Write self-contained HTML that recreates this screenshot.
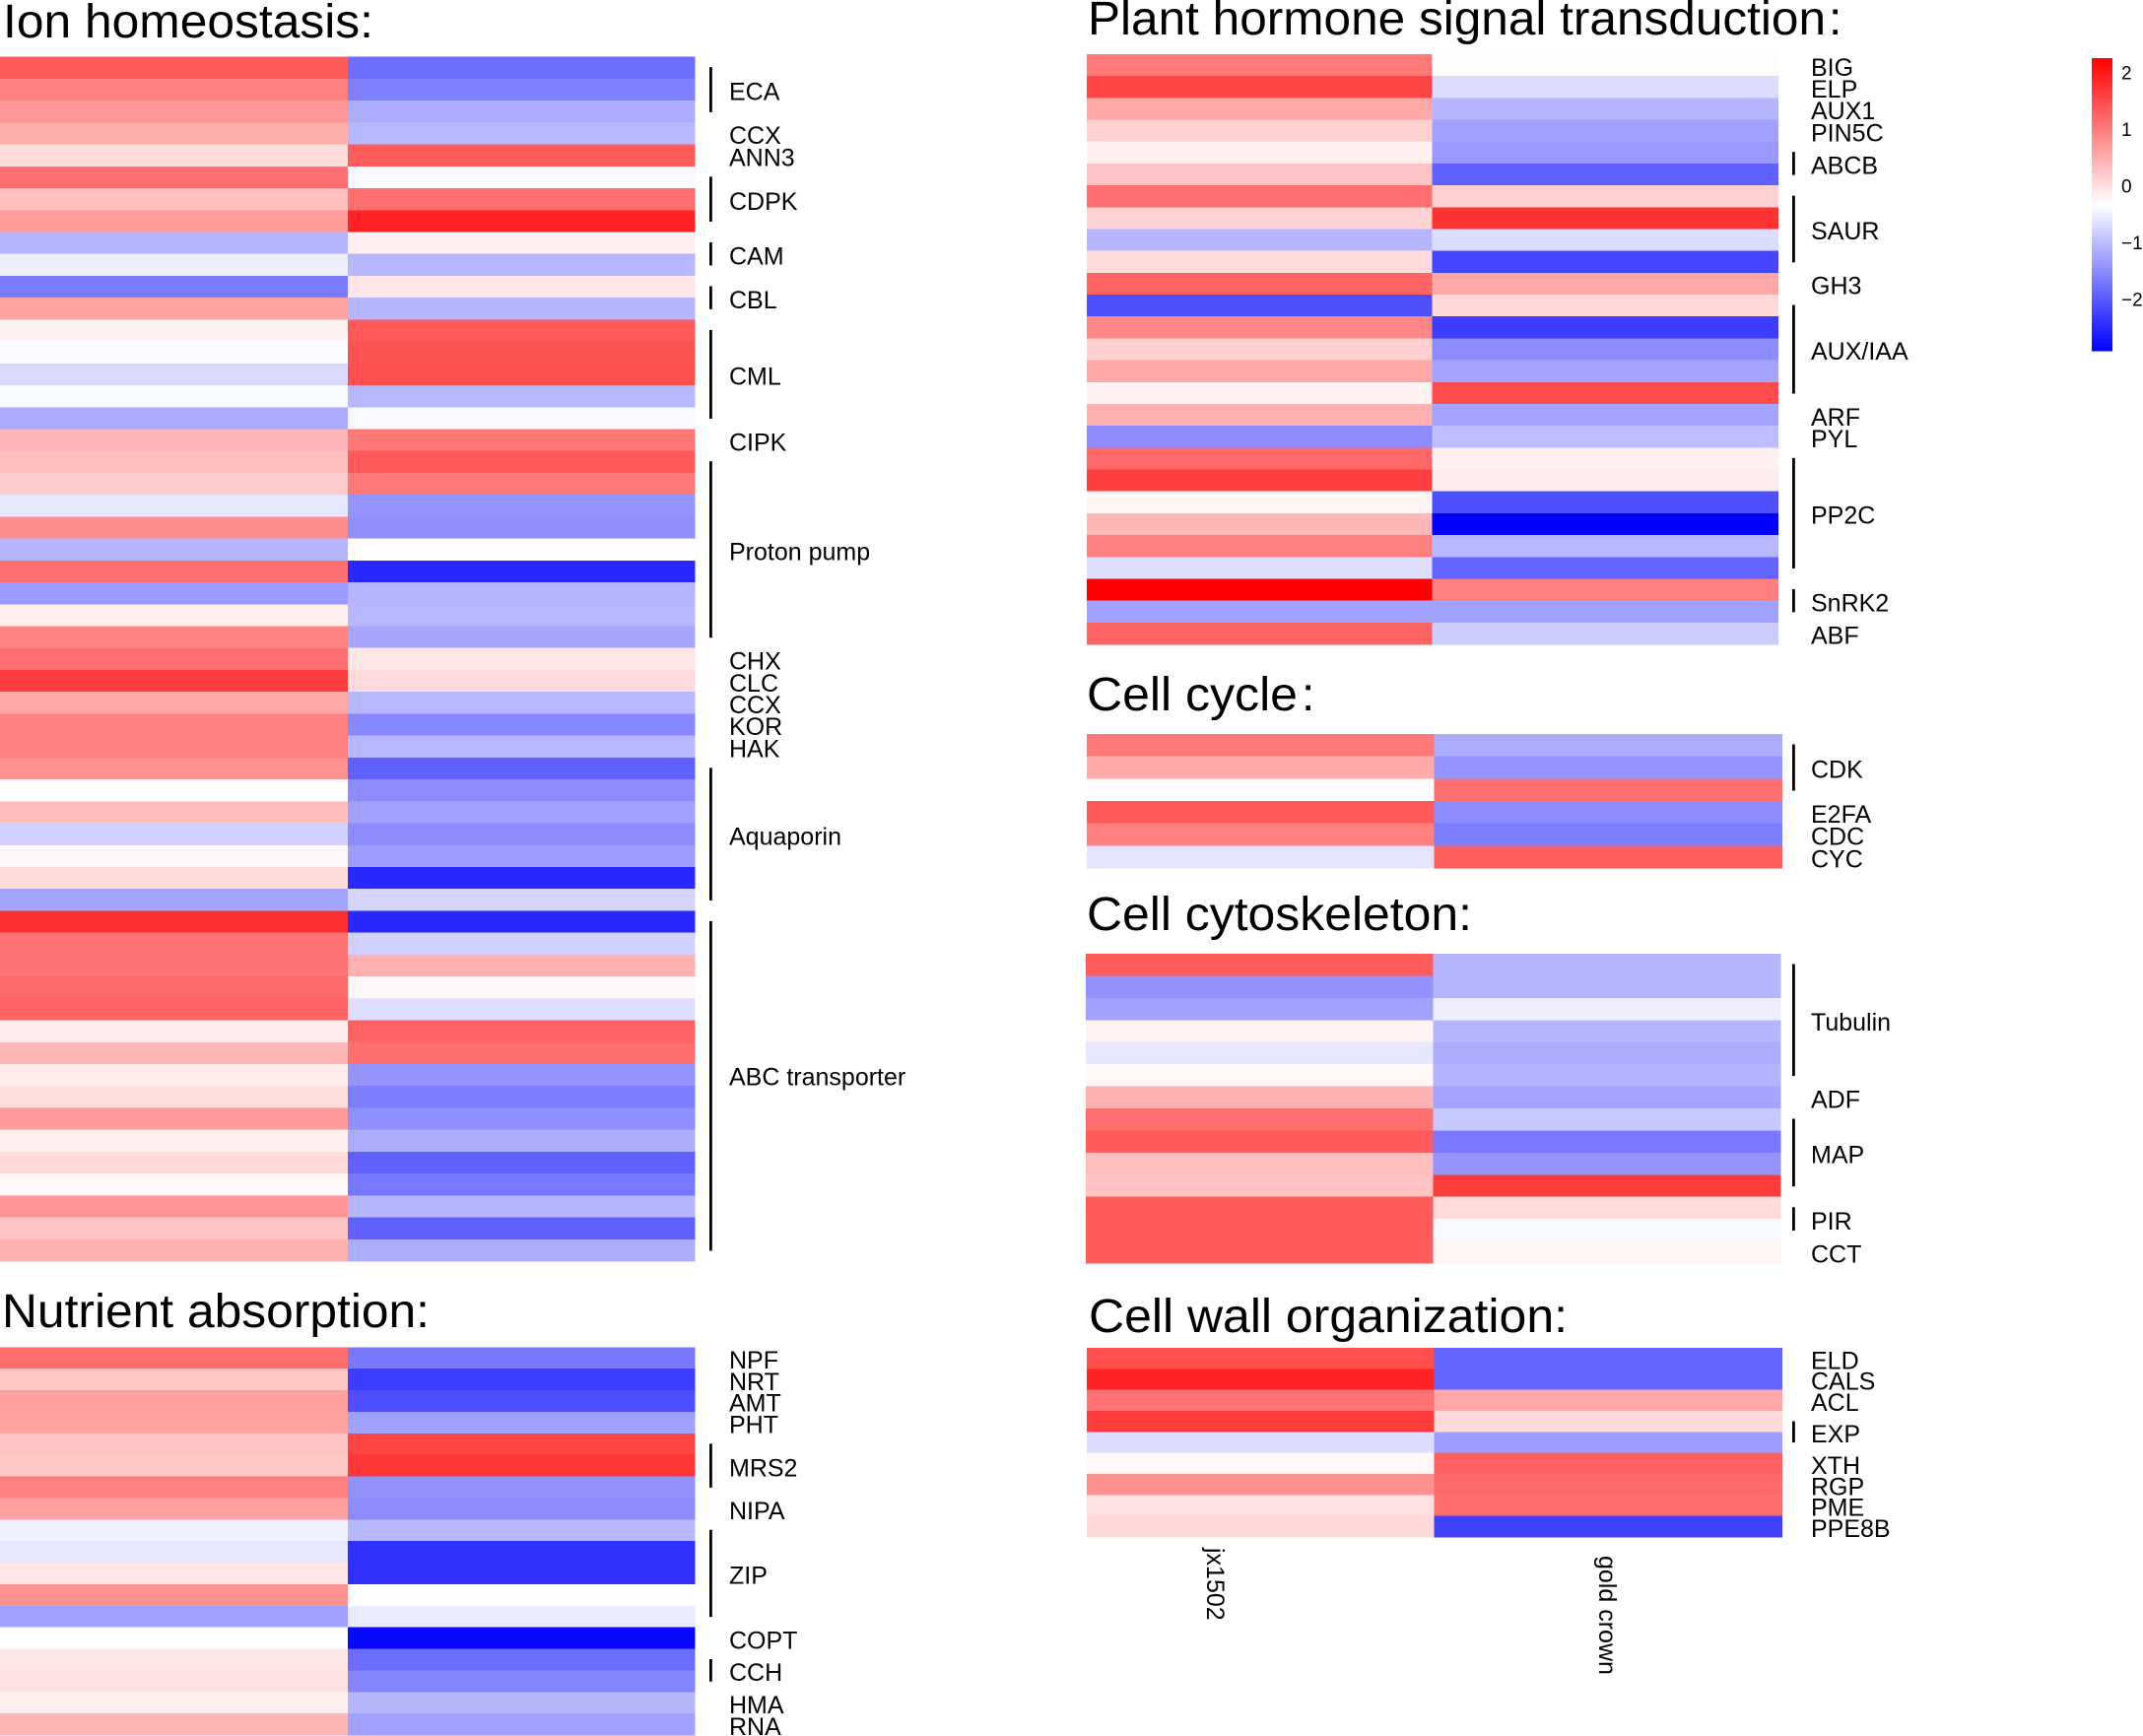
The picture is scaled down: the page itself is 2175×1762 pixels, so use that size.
<!DOCTYPE html>
<html lang="en">
<head>
<meta charset="utf-8">
<title>Heatmap of gene expression by functional category</title>
<style>
  html, body { margin: 0; padding: 0; background: #fff; }
  svg { display: block; font-family: "Liberation Sans", Arial, sans-serif; }
  .title { font-size: 48px; fill: #000; }
  .gene { font-size: 25px; fill: #000; }
  .tick { font-size: 19px; fill: #000; }
</style>
</head>
<body>
<svg id="chart" xmlns="http://www.w3.org/2000/svg" width="2175" height="1762" viewBox="0 0 2175 1762">
  <rect x="0" y="0" width="2175" height="1762" fill="#fff"/>
  <text class="title" x="3" y="38" textLength="376" lengthAdjust="spacingAndGlyphs">Ion homeostasis:</text>
  <text class="title" x="2" y="1347" textLength="434" lengthAdjust="spacingAndGlyphs">Nutrient absorption:</text>
  <text class="title" x="1104" y="35" textLength="749" lengthAdjust="spacingAndGlyphs">Plant hormone signal transduction</text>
  <text class="title" x="1856" y="35">:</text>
  <text class="title" x="1103" y="721" textLength="214" lengthAdjust="spacingAndGlyphs">Cell cycle</text>
  <text class="title" x="1321" y="721">:</text>
  <text class="title" x="1103" y="944" textLength="391" lengthAdjust="spacingAndGlyphs">Cell cytoskeleton:</text>
  <text class="title" x="1105" y="1352" textLength="486" lengthAdjust="spacingAndGlyphs">Cell wall organization:</text>
  <text class="gene" transform="translate(1225,1571) rotate(90)">jx1502</text>
  <text class="gene" transform="translate(1623,1579) rotate(90)">gold crown</text>
</svg>
<script>
// ---- colour scale limits and tick labels ----
const scaleMin = -2.89;
const scaleMax = 2.28;
const scaleTicks = [2, 1, 0, -1, -2];

// ---- Ion homeostasis ----
const ionJx = [1.36,1.0,0.76,0.53,0.06,1.15,0.35,0.71,-1.05,-0.48,-1.65,0.63,-0.17,-0.35,-0.69,-0.38,-1.18,0.45,0.35,0.22,-0.56,0.87,-1.05,1.15,-1.34,-0.14,0.94,
  1.15,1.67,0.58,1.0,1.0,0.81,-0.33,0.37,-0.77,-0.22,0.06,-1.23,1.80,1.12,1.12,1.23,1.28,-0.12,0.43,-0.12,0.04,0.74,-0.14,0.06,-0.22,0.79,0.30,0.50];
const ionGold = [-1.78,-1.6,-1.15,-1.03,1.36,-0.38,1.15,1.93,-0.14,-1.03,-0.04,-1.05,1.38,1.44,1.49,-1.03,-0.38,1.07,1.38,1.05,-1.39,-1.44,-0.27,-2.48,-1.05,-1.03,-1.21,
  -0.04,0.06,-1.03,-1.52,-1.03,-1.91,-1.47,-1.26,-1.47,-1.31,-2.48,-0.74,-2.48,-0.77,0.50,-0.22,-0.64,1.28,1.18,-1.39,-1.62,-1.44,-1.15,-1.91,-1.67,-1.05,-1.91,-1.15];
const ionGenes = ['ECA','CCX','ANN3','CDPK','CAM','CBL','CML','CIPK','Proton pump','CHX','CLC','CCX','KOR','HAK','Aquaporin','ABC transporter'];
const ionGeneRows = [3,1,1,3,2,2,5,1,9,1,1,1,1,1,7,16];

// ---- Nutrient absorption ----
const nutrientJx = [1.18,0.27,0.66,0.63,0.30,0.27,1.0,0.66,-0.46,-0.56,-0.04,0.81,-1.26,-0.33,-0.04,0.01,-0.14,0.45];
const nutrientGold = [-1.67,-2.27,-2.09,-1.26,1.59,1.72,-1.41,-1.47,-1.03,-2.40,-2.40,-0.30,-0.51,-2.81,-1.80,-1.54,-1.05,-1.26];
const nutrientGenes = ['NPF','NRT','AMT','PHT','MRS2','NIPA','ZIP','COPT','CCH','HMA','RNA'];
const nutrientGeneRows = [1,1,1,1,3,1,5,1,2,1,1];

// ---- Plant hormone signal transduction ----
const hormoneJx = [1.05,1.59,0.58,0.17,-0.14,0.30,1.15,0.14,-1.05,0.06,1.28,-2.09,0.92,0.17,0.58,-0.17,0.50,-1.47,1.23,1.64,-0.20,0.43,1.0,-0.64,2.28,-1.26,1.28];
const hormoneGold = [-0.27,-0.66,-1.05,-1.26,-1.34,-1.91,0.17,1.77,-0.66,-2.19,0.58,0.09,-2.27,-1.47,-1.23,1.51,-1.23,-0.97,-0.14,-0.12,-2.09,-2.89,-1.03,-1.88,1.0,-1.26,-0.82];
const hormoneGenes = ['BIG','ELP','AUX1','PIN5C','ABCB','SAUR','GH3','AUX/IAA','ARF','PYL','PP2C','SnRK2','ABF'];
const hormoneGeneRows = [1,1,1,1,2,4,1,5,1,1,6,2,1];

// ---- Cell cycle ----
const cycleJx = [1.05,0.55,-0.33,1.38,1.0,-0.58];
const cycleGold = [-1.15,-1.39,1.15,-1.47,-1.62,1.33];
const cycleGenes = ['CDK','E2FA','CDC','CYC'];
const cycleGeneRows = [3,1,1,1];

// ---- Cell cytoskeleton ----
const cytoJx = [1.36,-1.41,-1.26,-0.17,-0.56,-0.22,0.50,1.15,1.36,0.35,0.30,1.38,1.36,1.36];
const cytoGold = [-1.05,-1.05,-0.48,-1.05,-1.15,-1.08,-1.23,-0.87,-1.67,-1.39,1.67,0.06,-0.38,-0.20];
const cytoGenes = ['Tubulin','ADF','MAP','PIR','CCT'];
const cytoGeneRows = [6,1,4,2,1];

// ---- Cell wall organization ----
const wallJx = [1.49,1.93,1.12,1.67,-0.66,-0.22,0.81,0.01,0.09];
const wallGold = [-1.88,-1.88,0.58,0.09,-1.31,1.31,1.23,1.20,-2.24];
const wallGenes = ['ELD','CALS','ACL','EXP','XTH','RGP','PME','PPE8B'];
const wallGeneRows = [1,1,1,2,1,1,1,1];

const NS = 'http://www.w3.org/2000/svg';
const chart = document.getElementById('chart');
const scaleMid = (scaleMin + scaleMax) / 2;

function colorOf(v) {
  if (v >= scaleMid) {
    const t = Math.min(1, (v - scaleMid) / (scaleMax - scaleMid));
    const c = Math.round(255 * (1 - t));
    return 'rgb(255,' + c + ',' + c + ')';
  }
  const t = Math.min(1, (scaleMid - v) / (scaleMid - scaleMin));
  const c = Math.round(255 * (1 - t));
  return 'rgb(' + c + ',' + c + ',255)';
}

function drawPanel(p) {
  const n = p.jx.length;
  const rowH = (p.bottom - p.top) / n;
  const yOf = function (row) { return p.top + row * rowH; };
  const group = document.createElementNS(NS, 'g');
  
  
  chart.appendChild(group);

  const columns = [[p.jx, p.x0, p.x1, 'jx1502'], [p.gold, p.x1, p.x2, 'gold-crown']];
  columns.forEach(function (col) {
    col[0].forEach(function (v, i) {
      const r = document.createElementNS(NS, 'rect');
      
      
      r.setAttribute('x', col[1]);
      r.setAttribute('y', yOf(i));
      r.setAttribute('width', col[2] - col[1]);
      r.setAttribute('height', rowH + 0.3);
      r.setAttribute('fill', colorOf(v));
      r.setAttribute('shape-rendering', 'crispEdges');
      group.appendChild(r);
    });
  });

  let row = 0;
  p.genes.forEach(function (gene, i) {
    const span = p.geneRows[i];
    const start = yOf(row);
    const end = yOf(row + span);
    const labelNudge = gene === 'ABC transporter' ? -11.5 : 0;
    const t = document.createElementNS(NS, 'text');
    
    
    t.setAttribute('class', 'gene');
    t.setAttribute('x', p.labelX);
    t.setAttribute('y', (start + end) / 2 + 10.7 + labelNudge);
    t.textContent = gene;
    group.appendChild(t);
    if (span > 1) {
      const b = document.createElementNS(NS, 'rect');
      
      
      b.setAttribute('x', p.barX);
      b.setAttribute('y', start + 10.5);
      b.setAttribute('width', 2.8);
      b.setAttribute('height', end - start - 21);
      b.setAttribute('fill', '#000');
      group.appendChild(b);
    }
    row += span;
  });
}

drawPanel({ name: 'ion-homeostasis', jx: ionJx, gold: ionGold, genes: ionGenes, geneRows: ionGeneRows, top: 57.7, bottom: 1280, x0: 0, x1: 353, x2: 705.5, labelX: 740, barX: 720 });
drawPanel({ name: 'nutrient-absorption', jx: nutrientJx, gold: nutrientGold, genes: nutrientGenes, geneRows: nutrientGeneRows, top: 1367.3, bottom: 1761, x0: 0, x1: 353, x2: 705.5, labelX: 740, barX: 720 });
drawPanel({ name: 'plant-hormone', jx: hormoneJx, gold: hormoneGold, genes: hormoneGenes, geneRows: hormoneGeneRows, top: 55, bottom: 654, x0: 1103, x1: 1453.5, x2: 1805, labelX: 1838, barX: 1819 });
drawPanel({ name: 'cell-cycle', jx: cycleJx, gold: cycleGold, genes: cycleGenes, geneRows: cycleGeneRows, top: 745, bottom: 881, x0: 1103, x1: 1455.5, x2: 1809, labelX: 1838, barX: 1819 });
drawPanel({ name: 'cell-cytoskeleton', jx: cytoJx, gold: cytoGold, genes: cytoGenes, geneRows: cytoGeneRows, top: 968, bottom: 1282, x0: 1102, x1: 1454.5, x2: 1807.5, labelX: 1838, barX: 1819 });
drawPanel({ name: 'cell-wall', jx: wallJx, gold: wallGold, genes: wallGenes, geneRows: wallGeneRows, top: 1368, bottom: 1560, x0: 1103, x1: 1455.5, x2: 1809, labelX: 1838, barX: 1819 });

// ---- colour bar ----
(function () {
  const top = 59, bottom = 356, left = 2123, width = 21;
  const yOfValue = function (v) { return top + (scaleMax - v) / (scaleMax - scaleMin) * (bottom - top); };
  const group = document.createElementNS(NS, 'g');
  
  
  chart.appendChild(group);
  const steps = 297;
  for (let i = 0; i < steps; i++) {
    const r = document.createElementNS(NS, 'rect');
    
    
    r.setAttribute('x', left);
    r.setAttribute('y', top + i * (bottom - top) / steps);
    r.setAttribute('width', width);
    r.setAttribute('height', (bottom - top) / steps + 0.4);
    r.setAttribute('fill', colorOf(scaleMax - (i + 0.5) / steps * (scaleMax - scaleMin)));
    r.setAttribute('shape-rendering', 'crispEdges');
    group.appendChild(r);
  }
  scaleTicks.forEach(function (v) {
    const t = document.createElementNS(NS, 'text');
    
    
    t.setAttribute('class', 'tick');
    t.setAttribute('x', 2153);
    t.setAttribute('y', yOfValue(v) + 5.5);
    t.textContent = v < 0 ? '\u2212' + Math.abs(v) : String(v);
    group.appendChild(t);
  });
})();
</script>
</body>
</html>
